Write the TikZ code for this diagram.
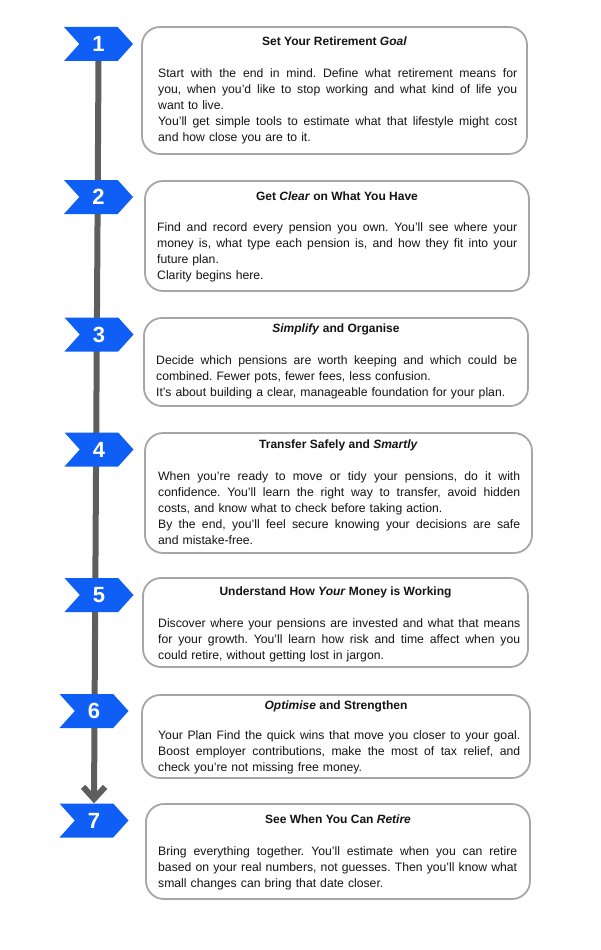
\documentclass[tikz,border=0pt]{standalone}
\usepackage{fontspec}
\setmainfont{Liberation Sans}
\usetikzlibrary{shapes.symbols,arrows.meta}
\definecolor{stepblue}{HTML}{0F5EF5}
\definecolor{boxgray}{HTML}{A6A6A6}
\definecolor{linegray}{HTML}{5E5E5E}
\definecolor{ink}{HTML}{141414}
\newlength\Jw
\newcommand\J[1]{\leavevmode\hbox to \Jw{\spaceskip=\fontdimen2\font plus 1fil\relax #1}}
\newcommand\FL{\rule{0pt}{10pt}}
\pgfdeclarelayer{bg}
\pgfsetlayers{bg,main}
\frenchspacing
\begin{document}
\begin{tikzpicture}[x=1pt,y=-1pt,
  chev/.style={signal, signal from=west, signal to=east, signal pointer angle=96, fill=stepblue, draw=none, minimum width=69pt, minimum height=34pt, inner sep=0pt, text=white, font=\fontsize{22}{22}\selectfont\bfseries},
  card/.style={draw=boxgray, line width=1.8pt, rounded corners=18pt, fill=white, inner sep=0pt},
  title/.style={font=\fontsize{12}{14}\selectfont\bfseries, text=ink, inner sep=0pt, anchor=base},
  body/.style={font=\fontsize{12.2}{16}\selectfont\frenchspacing, text=ink, inner sep=0pt, anchor=north west, align=left}
]
\useasboundingbox (0,0) rectangle (600,950);

% cards
\node[card, minimum width=385pt, minimum height=127pt] (b1) at (334.5,90.5) {};
\node[card, minimum width=384pt, minimum height=110pt] (b2) at (337,236) {};
\node[card, minimum width=384pt, minimum height=88pt] (b3) at (336,362) {};
\node[card, minimum width=387pt, minimum height=120pt] (b4) at (338.5,493) {};
\node[card, minimum width=385pt, minimum height=89pt] (b5) at (335.5,622.5) {};
\node[card, minimum width=388pt, minimum height=83pt] (b6) at (336,736.5) {};
\node[card, minimum width=384pt, minimum height=95pt] (b7) at (338,851.5) {};

% titles
\node[title] (t1) at (334.5,46) {Set Your Retirement \textit{Goal}};
\node[title] (t2) at (337,200.3) {Get \textit{Clear} on What You Have};
\node[title] (t3) at (336,332.3) {\textit{Simplify} and Organise};
\node[title] (t4) at (338.5,448.3) {Transfer Safely and \textit{Smartly}};
\node[title] (t5) at (335.5,595.3) {Understand How \textit{Your} Money is Working};
\node[title] (t6) at (336,709.3) {\textit{Optimise} and Strengthen};
\node[title] (t7) at (338,823.3) {See When You Can \textit{Retire}};

% bodies
\node[body, text width=359pt] (d1) at (158,67) {\setlength\Jw{359pt}\FL\J{Start with the end in mind. Define what retirement means for}\\
\J{you, when you’d like to stop working and what kind of life you}\\
want to live.\\
\J{You’ll get simple tools to estimate what that lifestyle might cost}\\
and how close you are to it.};
\node[body, text width=360pt] (d2) at (157,221) {\setlength\Jw{360pt}\FL\J{Find and record every pension you own. You’ll see where your}\\
\J{money is, what type each pension is, and how they fit into your}\\
future plan.\\
Clarity begins here.};
\node[body, text width=361pt] (d3) at (156,354) {\setlength\Jw{361pt}\FL\J{Decide which pensions are worth keeping and which could be}\\
combined. Fewer pots, fewer fees, less confusion.\\
It’s about building a clear, manageable foundation for your plan.};
\node[body, text width=362pt] (d4) at (158,470) {\setlength\Jw{362pt}\FL\J{When you’re ready to move or tidy your pensions, do it with}\\
\J{confidence. You’ll learn the right way to transfer, avoid hidden}\\
costs, and know what to check before taking action.\\
\J{By the end, you’ll feel secure knowing your decisions are safe}\\
and mistake-free.};
\node[body, text width=362pt] (d5) at (158,617) {\setlength\Jw{362pt}\FL\J{Discover where your pensions are invested and what that means}\\
\J{for your growth. You’ll learn how risk and time affect when you}\\
could retire, without getting lost in jargon.};
\node[body, text width=362pt] (d6) at (158,729) {\setlength\Jw{362pt}\FL\J{Your Plan Find the quick wins that move you closer to your goal.}\\
\J{Boost employer contributions, make the most of tax relief, and}\\
check you’re not missing free money.};
\node[body, text width=359pt] (d7) at (158,845) {\setlength\Jw{359pt}\FL\J{Bring everything together. You’ll estimate when you can retire}\\
\J{based on your real numbers, not guesses. Then you’ll know what}\\
small changes can bring that date closer.};

% chevrons
\node[chev] (n1) at (98.5,44) {1};
\node[chev] (n2) at (98.5,197) {2};
\node[chev] (n3) at (99,334.5) {3};
\node[chev] (n4) at (99,449.5) {4};
\node[chev] (n5) at (99,595) {5};
\node[chev] (n6) at (94,711) {6};
\node[chev] (n7) at (94,820.5) {7};

\begin{pgfonlayer}{bg}
\draw[linegray, line width=6pt, -{Straight Barb[length=12pt, width=22pt]}] (n1.south) -- (n7.north);
\end{pgfonlayer}
\end{tikzpicture}
\end{document}
